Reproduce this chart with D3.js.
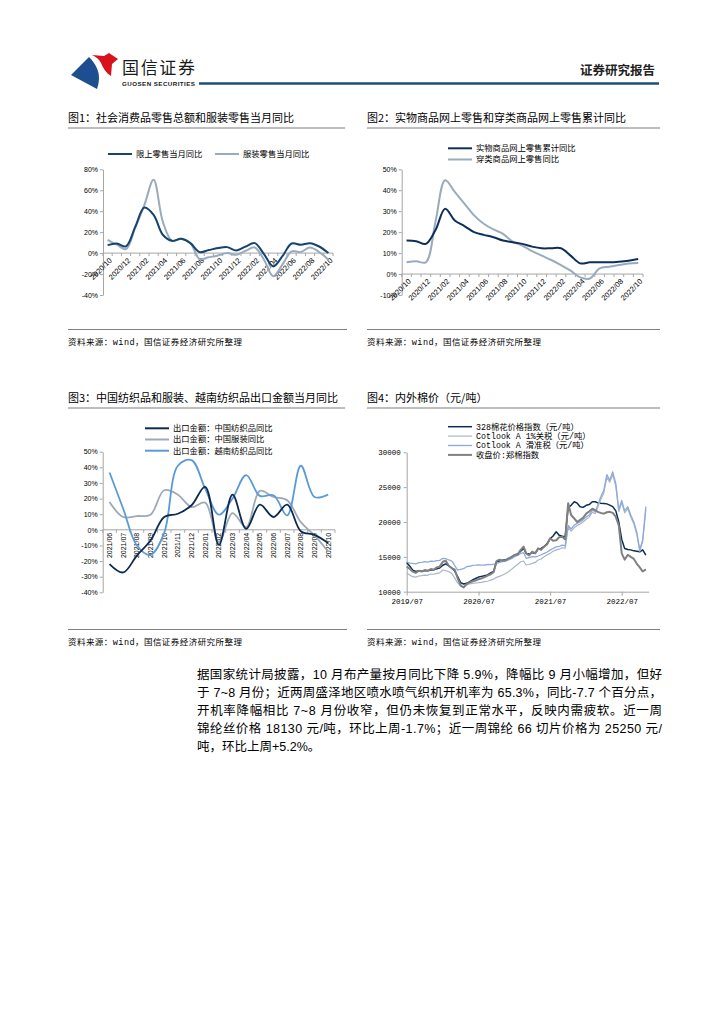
<!DOCTYPE html>
<html lang="zh-CN">
<head>
<meta charset="UTF-8">
<title>纺织服装周报</title>
<script src="https://cdn.jsdelivr.net/npm/d3@7"></script>
<style>
  body { margin: 0; background: #fff; }
</style>
</head>
<body>
<script>
    // ---- data ----
    const months1 = ['2020/10', '2020/11', '2020/12', '2021/01', '2021/02', '2021/03', '2021/04', '2021/05', '2021/06',
        '2021/07', '2021/08', '2021/09', '2021/10', '2021/11', '2021/12', '2022/01', '2022/02', '2022/03', '2022/04',
        '2022/05', '2022/06', '2022/07', '2022/08', '2022/09', '2022/10']
    const xLabels12 = ['2020/10', '2020/12', '2021/02', '2021/04', '2021/06', '2021/08', '2021/10', '2021/12',
        '2022/02', '2022/04', '2022/06', '2022/08', '2022/10']
    const names1 = ['限上零售当月同比', '服装零售当月同比']
    const retailAbove = [7.6, 9.2, 6.5, 25, 43.5, 36.5, 17.5, 11.7, 13.6, 9.5, 1, 2.9, 4.8, 5.7, 2.5, 6.3, 9.5, -1, -12.7, -3, 9.2, 8, 9.5, 6.3, 0]
    const apparelRetail = [12.7, 8, 3.8, 24, 46, 70, 30, 11.7, 13.6, 9.5, -5.7, -4, -2.2, 0, -1.6, 2.2, 5.4, -6.3, -22, -11, 1.6, 1, 5.4, 1, -6.3]
    const yTicks1 = [-40, -20, 0, 20, 40, 60, 80]

    const names2 = ['实物商品网上零售累计同比', '穿类商品网上零售同比']
    const onlineGoods = [16, 15.7, 14.4, 21, 31.2, 25.6, 22.9, 20, 18.7, 17.6, 16, 15.2, 14.4, 13.1, 12.3, 12.3, 12.3, 8.8, 5.1, 5.6, 5.6, 5.6, 5.9, 6.4, 7.2]
    const onlineApparel = [5.6, 6.1, 5.6, 25, 44.8, 39.2, 33.6, 28, 24, 21.3, 19.2, 15.5, 13.6, 10.9, 8.8, 6.7, 4.3, 1.6, -1.6, -2.1, 2.7, 3.5, 4.3, 5, 5.3]
    const yTicks2 = [-10, 0, 10, 20, 30, 40, 50]

    const months3 = ['2021/06', '2021/07', '2021/08', '2021/09', '2021/10', '2021/11', '2021/12', '2022/01', '2022/02',
        '2022/03', '2022/04', '2022/05', '2022/06', '2022/07', '2022/08', '2022/09', '2022/10']
    const names3 = ['出口金额：中国纺织品同比', '出口金额：中国服装同比', '出口金额：越南纺织品同比']
    const chinaTextile = [-21.9, -27.3, -16.5, -6.9, 8.2, 10.3, 15.7, 27.5, -9.7, 22.5, 0.6, 16.1, 8.2, 16.1, -0.9, -3.2, -8.4]
    const chinaApparel = [17.8, 8.2, 8.8, 9.7, 25.3, 22.5, 14.6, 17.4, -7.9, 10.7, 1.7, 24.9, 21, 18.9, 4.9, -3.6, -14]
    const vietnamTextile = [36.7, 13.5, -10, -16, -2, 41, 44.6, 26.4, 9.7, 20, 35, 21.7, 22.1, 9.2, 41, 21, 22.5]
    const yTicks3 = [-40, -30, -20, -10, 0, 10, 20, 30, 40, 50]

    // 半月一个点：2019/07/01 起，到 2022/11/01
    const dates4 = d3.range(81).map(i => new Date(2019, 6 + Math.floor(i / 2), i % 2 ? 16 : 1))
    const names4 = ['328棉花价格指数（元/吨）', 'Cotlook A 1%关税（元/吨）', 'Cotlook A 滑准税（元/吨）', '收盘价:郑棉指数']
    const cc328 = [
        14200, 13700, 13100, 12900, 13000, 12950, 13050, 13000, 13100, 13150, 13300, 13400, 13800, 14000, 13700, 13400, 13000, 12200, 11300, 11100,
        11200, 11400, 11700, 11900, 12100, 12200, 12300, 12400, 12700, 12900, 14300, 14400, 14500, 14600, 14700, 14900, 15300, 15400, 15800, 16200,
        15500, 15400, 15600, 15500, 16100, 16200, 16500, 16900, 17600, 18000, 18600, 18100, 17970, 17900, 22100, 22400, 22900, 22700, 22200, 22100,
        22400, 22500, 22900, 22900, 22750, 22700, 22660, 22600, 22420, 22200, 21600, 20000, 17500, 16200, 16050, 16000, 15860, 15800, 15720, 16000,
        15240]
    const cotlook1 = [
        12630, 12400, 12150, 12100, 12250, 12300, 12390, 12350, 12540, 12500, 12630, 12700, 13110, 13000, 12870, 12600, 12000, 11300, 10800, 10700,
        10960, 11100, 11200, 11250, 11290, 11350, 11440, 11500, 11670, 11800, 12060, 12200, 12390, 12600, 12870, 13200, 13590, 13900, 14300, 14400,
        13830, 13900, 14070, 14200, 14550, 14700, 15020, 15300, 15500, 15800, 16000, 16100, 16300, 16250, 19200, 18700, 19200, 19500, 19700, 20000,
        20400, 20700, 21400, 21200, 22100, 23200, 24200, 26400, 25700, 26800, 25100, 21500, 22800, 21300, 21900, 20700, 19700, 18200, 15800, 17200,
        21800]
    const cotlookSliding = [
        14300, 14100, 14070, 14000, 14160, 14200, 14300, 14250, 14400, 14350, 14450, 14500, 14790, 14750, 14550, 14400, 13800, 13100, 13200, 13300,
        13590, 13650, 13780, 13800, 13830, 13800, 13830, 13900, 13870, 13950, 14070, 14200, 14300, 14400, 14550, 14750, 15020, 15200, 15500, 15600,
        14790, 14900, 15020, 15000, 15120, 15300, 15500, 15700, 15960, 16200, 16440, 16500, 16670, 16600, 19500, 19000, 19550, 19800, 20020, 20300,
        20740, 21000, 21700, 21500, 22400, 23600, 24570, 26800, 26000, 27200, 25500, 21800, 23100, 21600, 22200, 21000, 20000, 18500, 16000, 17500,
        22200]
    const zhengCotton = [
        13590, 13300, 12870, 12700, 13010, 12900, 13110, 13000, 13250, 13150, 13490, 13600, 14300, 14450, 13700, 13350, 13200, 12000, 10900, 10600,
        11100, 11300, 11500, 11600, 11800, 11900, 12100, 12300, 12500, 12800, 14400, 14600, 14450, 14500, 14790, 15000, 15260, 15300, 16000, 16460,
        15500, 15200, 15740, 15500, 16220, 16000, 16460, 16800, 17660, 17300, 17390, 17800, 17870, 17500, 22700, 21000, 20500, 20000, 20300, 20600,
        21200, 21500, 21900, 21700, 21460, 21300, 21200, 21400, 21460, 21300, 20740, 19500, 15500, 14600, 15300, 15000, 14700, 14000, 13500, 12900,
        13200]
    const xTicks4 = ['2019/07', '2020/07', '2021/07', '2022/07']
    const yTicks4 = [10000, 15000, 20000, 25000, 30000]

    const bodyLines = [
        '据国家统计局披露，10 月布产量按月同比下降 5.9%，降幅比 9 月小幅增加，但好',
        '于 7~8 月份；近两周盛泽地区喷水喷气织机开机率为 65.3%，同比-7.7 个百分点，',
        '开机率降幅相比 7~8 月份收窄，但仍未恢复到正常水平，反映内需疲软。近一周',
        '锦纶丝价格 18130 元/吨，环比上周-1.7%；近一周锦纶 66 切片价格为 25250 元/',
        '吨，环比上周+5.2%。'
    ]

    // ---- page ----
    const cjk = '"Noto Sans CJK SC", sans-serif'
    const latin = '"Liberation Sans", Arial, "Noto Sans CJK SC", sans-serif'
    const mono = '"Liberation Mono", "Noto Sans CJK SC", monospace'
    const axisGray = '#a6a6a6'
    const svg = d3.select('body').append('svg').attr('width', 724).attr('height', 1024)
    svg.append('rect').attr('width', 724).attr('height', 1024).attr('fill', '#fff')

    const drawHeader = () => {
        svg.append('path').attr('d', 'M71,75 L89,57 C95,63 99,70 99,78 C99,82 98,86 97,89 Z').attr('fill', '#1d4e8f')
        svg.append('path').attr('d', 'M92,55 L104,56 L109,53 L118,59 L112,64 L111,76 C106,73 103,68 101,63 C99,59 96,57 92,55 Z')
            .attr('fill', '#d7121d')
        svg.append('text').attr('x', 122).attr('y', 74).attr('font-family', cjk).attr('font-size', 17)
            .attr('fill', '#1a1a1a').attr('textLength', 73).text('国信证券')
        svg.append('text').attr('x', 122).attr('y', 86).attr('font-family', latin).attr('font-size', 6.2).attr('font-weight', 'bold')
            .attr('fill', '#1a1a1a').attr('textLength', 73).text('GUOSEN SECURITIES')
        svg.append('text').attr('x', 655).attr('y', 75).attr('text-anchor', 'end').attr('font-family', cjk).attr('font-size', 12.5)
            .attr('font-weight', 'bold').attr('fill', '#222').text('证券研究报告')
        svg.append('line').attr('x1', 199).attr('x2', 659).attr('y1', 83.5).attr('y2', 83.5).attr('stroke', '#1f4e79').attr('stroke-width', 2.5)
    }

    const drawTitle = (x, y, w, label) => {
        svg.append('text').attr('x', x).attr('y', y).attr('font-family', cjk).attr('font-size', 11).attr('fill', '#000').text(label)
        svg.append('line').attr('x1', x).attr('x2', x + w).attr('y1', y + 6).attr('y2', y + 6).attr('stroke', '#7f7f7f').attr('stroke-width', 1.2)
    }

    const drawSource = (x, y, w) => {
        svg.append('line').attr('x1', x).attr('x2', x + w).attr('y1', y).attr('y2', y).attr('stroke', '#7f7f7f').attr('stroke-width', 1.2)
        svg.append('text').attr('x', x).attr('y', y + 15).attr('font-family', mono).attr('font-size', 8.5).attr('fill', '#000')
            .attr('textLength', 174).text('资料来源：wind，国信证券经济研究所整理')
    }

    const drawLegend = items => items.forEach(it => {
        svg.append('line').attr('x1', it.x).attr('x2', it.x + 24).attr('y1', it.y).attr('y2', it.y)
            .attr('stroke', it.color).attr('stroke-width', it.width || 2)
        svg.append('text').attr('x', it.x + 28).attr('y', it.y).attr('dy', '0.35em').attr('font-family', it.font || cjk)
            .attr('font-size', 8.3).attr('fill', '#000').text(it.label)
    })

    const styleAxis = (g, font, size) => {
        g.attr('font-family', font).attr('font-size', size)
        g.selectAll('.domain').attr('stroke', axisGray)
        g.selectAll('.tick line').attr('stroke', axisGray)
        g.selectAll('.tick text').attr('fill', '#000')
    }

    const drawBandChart = cfg => {
        const x = d3.scaleBand().domain(cfg.cats).range([cfg.left, cfg.right])
        const y = d3.scaleLinear().domain(cfg.yDomain).range([cfg.bottom, cfg.top])
        const half = x.bandwidth() / 2
        const gy = svg.append('g').attr('transform', `translate(${cfg.left},0)`)
            .call(d3.axisLeft(y).tickValues(cfg.yTicks).tickSize(3).tickSizeOuter(0).tickPadding(2).tickFormat(d => d + '%'))
        styleAxis(gy, latin, 7)
        const y0 = y(0)
        svg.append('line').attr('x1', cfg.left).attr('x2', cfg.right).attr('y1', y0).attr('y2', y0).attr('stroke', axisGray)
        svg.append('g').selectAll('line').data(d3.range(cfg.cats.length + 1)).join('line')
            .attr('x1', i => cfg.left + i * x.step()).attr('x2', i => cfg.left + i * x.step())
            .attr('y1', y0).attr('y2', y0 + 3).attr('stroke', axisGray)
        const gx = svg.append('g').attr('transform', `translate(0,${y0})`)
            .call(d3.axisBottom(x).tickValues(cfg.xLabels).tickSize(0).tickSizeOuter(0))
        gx.select('.domain').remove()
        styleAxis(gx, latin, cfg.labelSize)
        gx.selectAll('.tick text').attr('x', 0).attr('y', 0).attr('dy', '0.35em').attr('text-anchor', 'end')
            .attr('transform', cfg.labelTransform)
        const line = d3.line().x((d, i) => x(cfg.cats[i]) + half).y(d => y(d)).curve(d3.curveCatmullRom.alpha(0.5))
        cfg.series.forEach(s => {
            svg.append('path').datum(s.values).attr('d', line).attr('fill', 'none')
                .attr('stroke', s.color).attr('stroke-width', s.width).attr('stroke-linejoin', 'round')
        })
        drawLegend(cfg.legend)
    }

    const drawCotton = () => {
        const x = d3.scaleTime().domain([new Date(2019, 6, 1), new Date(2022, 10, 15)]).range([406.7, 648.6])
        const y = d3.scaleLinear().domain([10000, 30000]).range([591.7, 452.3])
        const parse = d3.timeParse('%Y/%m')
        const gx = svg.append('g').attr('transform', 'translate(0,591.7)')
            .call(d3.axisBottom(x).tickValues(xTicks4.map(parse)).tickSize(4).tickSizeOuter(0).tickPadding(3).tickFormat(d3.timeFormat('%Y/%m')))
        styleAxis(gx, mono, 7.5)
        const gy = svg.append('g').attr('transform', 'translate(406.7,0)')
            .call(d3.axisLeft(y).tickValues(yTicks4).tickSize(3).tickSizeOuter(0).tickPadding(3))
        styleAxis(gy, mono, 7.5)
        gy.selectAll('.tick text').text(d => d)
        const line = d3.line().x((d, i) => x(dates4[i])).y(d => y(d))
        const series = [
            { values: cc328, color: '#0b2c57', width: 1.5 },
            { values: cotlook1, color: '#a7b6c8', width: 1.2 },
            { values: cotlookSliding, color: '#8eaadc', width: 1.3 },
            { values: zhengCotton, color: '#808080', width: 2 }
        ]
        series.forEach(s => {
            svg.append('path').datum(s.values).attr('d', line).attr('fill', 'none')
                .attr('stroke', s.color).attr('stroke-width', s.width).attr('stroke-linejoin', 'round')
        })
        drawLegend(series.map((s, i) => ({ x: 448, y: 426.7 + i * 9.4, color: s.color, width: s.width, label: names4[i], font: mono })))
    }

    const drawBody = () => {
        bodyLines.forEach((t, i) => {
            const txt = svg.append('text').attr('x', 197).attr('y', 678.5 + i * 18).attr('font-family', latin)
                .attr('font-size', 12.5).attr('fill', '#000').text(t)
            if (i < bodyLines.length - 1) txt.attr('textLength', 465).attr('lengthAdjust', 'spacing')
        })
    }

    drawHeader()
    drawTitle(68, 122, 277, '图1：社会消费品零售总额和服装零售当月同比')
    drawTitle(367, 122, 293, '图2：实物商品网上零售和穿类商品网上零售累计同比')
    drawTitle(68, 402, 277, '图3：中国纺织品和服装、越南纺织品出口金额当月同比')
    drawTitle(367, 402, 293, '图4：内外棉价（元/吨）')

    drawBandChart({
        cats: months1, xLabels: xLabels12, yDomain: [-40, 80], yTicks: yTicks1, labelSize: 7.5,
        left: 103, right: 333, top: 169.3, bottom: 295, labelTransform: 'translate(3,6) rotate(-45)',
        series: [
            { values: apparelRetail, color: '#9aabbd', width: 2 },
            { values: retailAbove, color: '#15446f', width: 2 }
        ],
        legend: [
            { x: 108, y: 154, color: '#15446f', label: names1[0] },
            { x: 215, y: 154, color: '#9aabbd', label: names1[1] }
        ]
    })

    drawBandChart({
        cats: months1, xLabels: xLabels12, yDomain: [-10, 50], yTicks: yTicks2, labelSize: 7.5,
        left: 401.7, right: 643, top: 169.3, bottom: 295, labelTransform: 'translate(3,6) rotate(-45)',
        series: [
            { values: onlineApparel, color: '#9aabbd', width: 2 },
            { values: onlineGoods, color: '#0d2f5a', width: 2 }
        ],
        legend: [
            { x: 448, y: 148.3, color: '#0d2f5a', label: names2[0] },
            { x: 448, y: 159.5, color: '#9aabbd', label: names2[1] }
        ]
    })

    drawBandChart({
        cats: months3, xLabels: months3, yDomain: [-40, 50], yTicks: yTicks3, labelSize: 7,
        left: 102.7, right: 335, top: 451.7, bottom: 592.3, labelTransform: 'translate(0,3) rotate(-90)',
        series: [
            { values: chinaApparel, color: '#9ea9b6', width: 1.8 },
            { values: vietnamTextile, color: '#5b9bd5', width: 1.8 },
            { values: chinaTextile, color: '#0d2a52', width: 1.8 }
        ],
        legend: [
            { x: 145, y: 428.3, color: '#0d2a52', label: names3[0] },
            { x: 145, y: 439.5, color: '#9ea9b6', label: names3[1] },
            { x: 145, y: 450.7, color: '#5b9bd5', label: names3[2] }
        ]
    })

    drawCotton()

    drawSource(68, 329.5, 279)
    drawSource(367, 329.5, 293)
    drawSource(68, 629.5, 279)
    drawSource(367, 629.5, 293)

    drawBody()
</script>
</body>
</html>
